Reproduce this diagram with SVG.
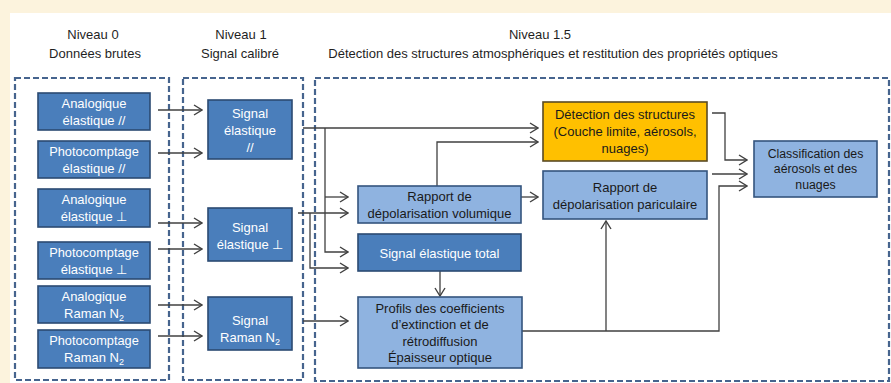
<svg xmlns="http://www.w3.org/2000/svg" width="891" height="383" viewBox="0 0 891 383">
<defs>
<style>
text{font-family:"Liberation Sans",Arial,sans-serif;font-size:13px;text-anchor:middle}
.hd{fill:#1f1f1f}
.wt{fill:#ffffff}
.dk{fill:#1a1a1a}
.frame{fill:none;stroke:#46648e;stroke-width:2.2;stroke-dasharray:6 3}
.bd{fill:#4a7ebb;stroke:#2b4a72;stroke-width:1.6}
.bl{fill:#8fb3e0;stroke:#34547e;stroke-width:1.6}
.bo{fill:#ffc000;stroke:#5a4a24;stroke-width:1.6}
.cn{fill:none;stroke:#404040;stroke-width:1.3}
.ar{marker-end:url(#arr)}
</style>
<marker id="arr" viewBox="0 0 10 12" markerWidth="10" markerHeight="12" refX="9" refY="6" orient="auto" markerUnits="userSpaceOnUse">
<path d="M1,1 L9,6 L1,11" fill="none" stroke="#404040" stroke-width="1.4"/>
</marker>
</defs>
<rect x="0" y="0" width="891" height="383" fill="#fcf3dd"/>
<rect x="10" y="13" width="881" height="370" fill="#ffffff"/>

<g id="headers">
<text class="hd" x="93" y="38.5">Niveau 0</text>
<text class="hd" x="95" y="57.5">Données brutes</text>
<text class="hd" x="241" y="38.5">Niveau 1</text>
<text class="hd" x="240" y="57.5">Signal calibré</text>
<text class="hd" x="540" y="38.5">Niveau 1.5</text>
<text class="hd" x="553" y="57.5">Détection des structures atmosphériques et restitution des propriétés optiques</text>
</g>

<g id="frames">
<rect id="frame-niveau0" class="frame" x="15" y="78" width="154" height="302"/>
<rect id="frame-niveau1" class="frame" x="183" y="78" width="120" height="302"/>
<rect id="frame-niveau15" class="frame" x="315" y="78" width="574" height="303"/>
</g>

<g id="connectors">
<path class="cn ar" d="M158,110 H202"/>
<path class="cn ar" d="M158,153 H202"/>
<path class="cn ar" d="M158,223 H202"/>
<path class="cn ar" d="M158,249 H202"/>
<path class="cn ar" d="M158,305 H202"/>
<path class="cn ar" d="M158,336 H202"/>
<path class="cn ar" d="M303,128 H538"/>
<path class="cn ar" d="M325,128 V252 H348"/>
<path class="cn ar" d="M325,197 H348"/>
<path class="cn ar" d="M298,213 H348"/>
<path class="cn ar" d="M310,213 V268 H348"/>
<path class="cn ar" d="M303,321 H348"/>
<path class="cn ar" d="M437,186 V142 H538"/>
<path class="cn ar" d="M521,197 H538"/>
<path class="cn ar" d="M440,271 V296"/>
<path class="cn ar" d="M522,331 H719 V186 H747"/>
<path class="cn ar" d="M606,331 V221"/>
<path class="cn ar" d="M712,113 H725 V160 H747"/>
<path class="cn ar" d="M712,174 H747"/>
</g>

<g id="n-analog-el-par">
<rect class="bd" x="38" y="93" width="112" height="37"/>
<text class="wt" x="94" y="107.5">Analogique</text>
<text class="wt" x="94" y="125">élastique //</text>
</g>
<g id="n-photo-el-par">
<rect class="bd" x="38" y="141" width="112" height="37"/>
<text class="wt" x="94" y="155.5" style="font-size:12.8px">Photocomptage</text>
<text class="wt" x="94" y="173">élastique //</text>
</g>
<g id="n-analog-el-perp">
<rect class="bd" x="38" y="189" width="112" height="38"/>
<text class="wt" x="94" y="203.5">Analogique</text>
<text class="wt" x="94" y="221">élastique ⊥</text>
</g>
<g id="n-photo-el-perp">
<rect class="bd" x="38" y="242" width="112" height="37"/>
<text class="wt" x="94" y="256.5" style="font-size:12.8px">Photocomptage</text>
<text class="wt" x="94" y="274">élastique ⊥</text>
</g>
<g id="n-analog-raman">
<rect class="bd" x="38" y="286" width="112" height="37"/>
<text class="wt" x="94" y="300.5">Analogique</text>
<text class="wt" x="94" y="318">Raman N<tspan style="font-size:9px" dy="3">2</tspan></text>
</g>
<g id="n-photo-raman">
<rect class="bd" x="38" y="330" width="112" height="38"/>
<text class="wt" x="94" y="344.5" style="font-size:12.8px">Photocomptage</text>
<text class="wt" x="94" y="362">Raman N<tspan style="font-size:9px" dy="3">2</tspan></text>
</g>

<g id="n-signal-el-par">
<rect class="bd" x="208" y="100" width="84" height="59"/>
<text class="wt" x="250" y="117.5">Signal</text>
<text class="wt" x="250" y="135">élastique</text>
<text class="wt" x="250" y="152">//</text>
</g>
<g id="n-signal-el-perp">
<rect class="bd" x="208" y="208" width="84" height="53"/>
<text class="wt" x="250" y="231.5">Signal</text>
<text class="wt" x="250" y="248.5">élastique ⊥</text>
</g>
<g id="n-signal-raman">
<rect class="bd" x="208" y="297" width="84" height="53"/>
<text class="wt" x="250" y="324.5">Signal</text>
<text class="wt" x="250" y="341.5">Raman N<tspan style="font-size:9px" dy="3">2</tspan></text>
</g>

<g id="n-rapport-vol">
<rect class="bl" x="358" y="186" width="163" height="37"/>
<text class="dk" x="439.5" y="200.5">Rapport de</text>
<text class="dk" x="439.5" y="217.5">dépolarisation volumique</text>
</g>
<g id="n-signal-total">
<rect class="bd" x="358" y="234" width="163" height="37"/>
<text class="wt" x="439.5" y="257.5">Signal élastique total</text>
</g>
<g id="n-profils">
<rect class="bl" x="358" y="297" width="164" height="71"/>
<text class="dk" x="440" y="312.5">Profils des coefficients</text>
<text class="dk" x="440" y="329">d’extinction et de</text>
<text class="dk" x="440" y="345.5">rétrodiffusion</text>
<text class="dk" x="440" y="362">Épaisseur optique</text>
</g>
<g id="n-detection">
<rect class="bo" x="543" y="102" width="164" height="59"/>
<text class="dk" x="625" y="119">Détection des structures</text>
<text class="dk" x="625" y="136">(Couche limite, aérosols,</text>
<text class="dk" x="625" y="153">nuages)</text>
</g>
<g id="n-rapport-part">
<rect class="bl" x="543" y="171" width="164" height="48"/>
<text class="dk" x="625" y="192">Rapport de</text>
<text class="dk" x="625" y="209">dépolarisation pariculaire</text>
</g>
<g id="n-classification">
<rect class="bl" x="754" y="141" width="123" height="56"/>
<text class="dk" x="815.5" y="157.5" style="font-size:12.3px">Classification des</text>
<text class="dk" x="815.5" y="173" style="font-size:12.3px">aérosols et des</text>
<text class="dk" x="815.5" y="188.5" style="font-size:12.3px">nuages</text>
</g>
</svg>
